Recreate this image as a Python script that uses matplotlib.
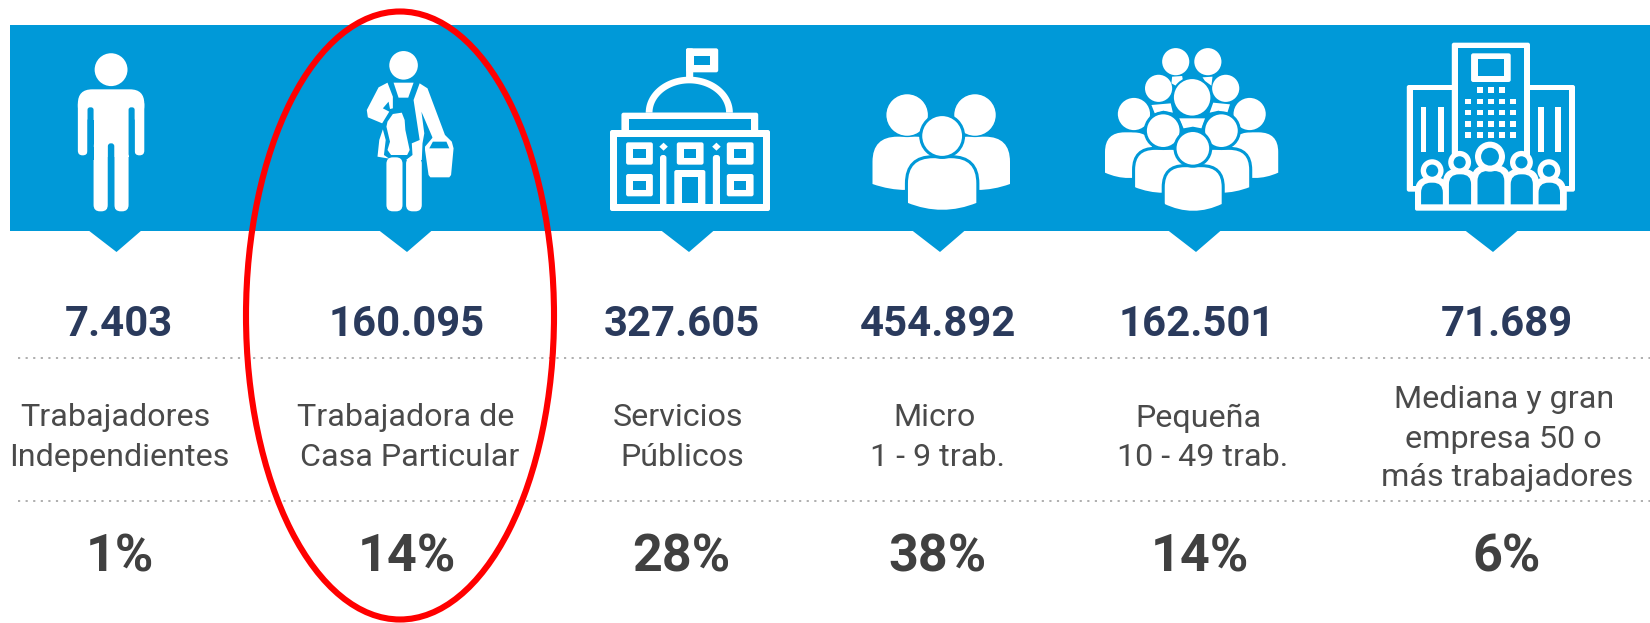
import numpy as np
import matplotlib
matplotlib.use("Agg")
import matplotlib.pyplot as plt
from matplotlib.patches import Rectangle, Polygon, Ellipse, FancyBboxPatch, PathPatch
from matplotlib.path import Path

# ---- data -------------------------------------------------------------
workers = [7403, 160095, 327605, 454892, 162501, 71689]
shares = [1, 14, 28, 38, 14, 6]
categories = [
    ["Trabajadores", "Independientes"],
    ["Trabajadora de", "Casa Particular"],
    ["Servicios", "Públicos"],
    ["Micro", "1 - 9 trab."],
    ["Pequeña", "10 - 49 trab."],
    ["Mediana y gran", "empresa 50 o", "más trabajadores"],
]

# ---- layout (pixels of the 1650x623 picture) ---------------------------
value_x = [118.6, 406.4, 682, 938, 1197, 1507]
share_x = [120, 407, 681, 937.5, 1200, 1507]
label_x = [[115, 119], [406, 410], [678, 682], [934, 938], [1198, 1202.5], [1504, 1503.6, 1507.5]]
pointer_x = [116.5, 407, 689, 940, 1196, 1493]

BLUE = "#0099D8"
WHITE = "#FFFFFF"
NAVY = "#2A3A5C"
GREY = "#4A4A4A"
DARK = "#404040"
DOTS = "#A8A8A8"

fig = plt.figure(figsize=(16.5, 6.23), dpi=100, facecolor="white")
ax = fig.add_axes([0, 0, 1, 1])
ax.set_xlim(0, 1650)
ax.set_ylim(623, 0)
ax.axis("off")

# banner
ax.add_patch(Rectangle((10, 24.5), 1640, 206.2, fc=BLUE, ec="none"))
for px in pointer_x:
    ax.add_patch(Polygon([(px - 28.5, 230), (px + 25.5, 230), (px, 252)], fc=BLUE, ec="none"))


class Icon:
    """Draws in the zoom coordinates of a crop: x/2.8, y/3 from an origin."""
    def __init__(self, ox, oy):
        self.ox, self.oy = ox, oy

    def X(self, x):
        return self.ox + np.asarray(x, float) / 2.8

    def Y(self, y):
        return self.oy + np.asarray(y, float) / 3

    def rr(self, x0, y0, x1, y1, r=0, c=WHITE):
        a, b, d, e = self.X(x0), self.Y(y0), self.X(x1), self.Y(y1)
        r = r / 2.8
        if r <= 0:
            ax.add_patch(Rectangle((a, b), d - a, e - b, fc=c, ec="none"))
        else:
            ax.add_patch(FancyBboxPatch((a + r, b + r), d - a - 2 * r, e - b - 2 * r,
                                        boxstyle=f"round,pad={r},rounding_size={r}",
                                        fc=c, ec="none"))

    def frame(self, x0, y0, x1, y1, t=20, r=6):
        self.rr(x0, y0, x1, y1, r)
        self.rr(x0 + t, y0 + t, x1 - t, y1 - t, 0, BLUE)

    def poly(self, pts, c=WHITE):
        p = np.array(pts, float)
        ax.add_patch(Polygon(np.c_[self.X(p[:, 0]), self.Y(p[:, 1])], fc=c, ec="none"))

    def circ(self, x, y, r, c=WHITE, ec=None, lw=0):
        ax.add_patch(Ellipse((self.X(x), self.Y(y)), 2 * r / 2.8, 2 * r / 2.8, fc=c,
                             ec=ec if ec else "none", lw=lw))

    def body(self, x0, x1, yt, yb, R, sag=18, c=WHITE, ec=BLUE, lw=2.2):
        a, d = self.X(x0), self.X(x1)
        t, b = self.Y(yt), self.Y(yb)
        rr = R / 2.8
        k = [(Path.MOVETO, (a, b)), (Path.LINETO, (a, t + rr)), (Path.CURVE3, (a, t)),
             (Path.CURVE3, (a + rr, t)), (Path.LINETO, (d - rr, t)), (Path.CURVE3, (d, t)),
             (Path.CURVE3, (d, t + rr)), (Path.LINETO, (d, b)),
             (Path.CURVE3, ((a + d) / 2, b + sag / 3 * 2)), (Path.CURVE3, (a, b))]
        ax.add_patch(PathPatch(Path([q[1] for q in k], [q[0] for q in k]), fc=c,
                               ec=ec if ec else "none", lw=lw))

    def person(self, cx, hy, hr, x0, x1, yt, yb, R=60, sag=18):
        self.body(x0, x1, yt, yb, R, sag)
        self.circ(cx, hy, hr, WHITE, BLUE, 2.2)


# --- independent worker
m = Icon(0, 0)
m.circ(311, 209, 46)
m.rr(218, 268, 404, 360, 40)
m.rr(218, 300, 245, 466, 13)
m.rr(377, 300, 404, 466, 13)
m.rr(262, 290, 360, 470, 0)
m.rr(262, 420, 302, 634, 18)
m.rr(320, 420, 360, 634, 18)
m.rr(245, 322, 262, 470, 7, BLUE)
m.rr(360, 322, 377, 470, 7, BLUE)
m.rr(245, 440, 262, 480, 0, BLUE)
m.rr(360, 470, 377, 480, 0, BLUE)
m.rr(302, 430, 320, 640, 8, BLUE)

# --- domestic worker
w = Icon(0, 0)
w.circ(1130, 196, 40)
w.poly([(1102, 248), (1158, 248), (1143, 293), (1116, 293)])
w.poly([(1085, 248), (1060, 262), (1027, 330), (1030, 352), (1070, 370), (1090, 335),
        (1072, 325), (1088, 305), (1092, 327), (1100, 325), (1100, 290)])
w.poly([(1175, 250), (1197, 265), (1247, 408), (1212, 415), (1180, 335), (1188, 400),
        (1183, 430), (1181, 480), (1137, 480), (1155, 465), (1153, 430), (1175, 420),
        (1158, 300)])
w.poly([(1085, 365), (1100, 342), (1125, 338), (1133, 360), (1135, 390), (1147, 450),
        (1140, 465), (1095, 465), (1085, 450), (1092, 425), (1082, 380)])
w.poly([(1072, 388), (1080, 420), (1075, 465), (1090, 476), (1057, 470), (1062, 420)])
w.rr(1082, 472, 1127, 634, 18)
w.rr(1137, 472, 1181, 634, 18)
w.poly([(1190, 450), (1200, 525), (1205, 532), (1258, 532), (1263, 525), (1270, 445),
        (1265, 425), (1247, 406), (1212, 412), (1190, 440)])
w.poly([(1202, 445), (1258, 445), (1250, 425), (1212, 425)], BLUE)

# --- public building
b = Icon(560, 20)
th = np.linspace(np.pi, 2 * np.pi, 60)
b.poly(np.c_[362 + 122 * np.cos(th), 278 + 108 * np.sin(th)])
b.poly(np.c_[362 + 103 * np.cos(th), 278 + 88 * np.sin(th)], BLUE)
b.rr(353, 85, 373, 180, 4)
b.frame(353, 85, 443, 157, 22, 6)
b.rr(353, 108, 372, 135, 0)
b.frame(172, 278, 555, 350, 20, 6)
b.frame(140, 330, 588, 573, 20, 6)
b.rr(172, 330, 555, 350, 0)
for x0, y0 in [(185, 367), (327, 367), (467, 367), (185, 462), (467, 462)]:
    b.frame(x0, y0, x0 + 75, y0 + 67, 20, 6)
b.frame(320, 450, 407, 570, 21, 6)
b.rr(280, 405, 298, 560, 8)
b.rr(428, 405, 448, 560, 8)
b.poly([(290, 368), (302, 380), (290, 392), (278, 380)])
b.poly([(438, 368), (450, 380), (438, 392), (426, 380)])

# --- micro firms
g = Icon(560, 20)
g.body(875, 1065, 350, 492, 70, 18, ec=None)
g.body(1075, 1260, 350, 492, 70, 18, ec=None)
g.circ(972, 285, 60, WHITE, BLUE, 1.0)
g.circ(1162, 285, 60, WHITE, BLUE, 1.0)
g.person(1070, 348, 60, 970, 1170, 410, 552, 75, 22)

# --- small firms
c = Icon(1090, 20)
c.circ(240, 125, 38)
c.circ(330, 125, 38)
c.poly([(230, 170), (258, 168), (260, 180), (240, 197), (228, 190)])
c.poly([(343, 170), (315, 172), (322, 183), (340, 197)])
c.circ(192, 205, 38)
c.circ(380, 205, 38)
c.circ(286, 232, 54, WHITE, BLUE, 1.5)
c.poly([(172, 255), (226, 250), (232, 278), (205, 272), (182, 282)])
c.poly([(345, 248), (392, 253), (384, 280), (360, 272), (335, 278)])
c.poly([(250, 295), (322, 295), (312, 325), (288, 320), (262, 325)])
c.body(42, 175, 337, 458, 55, 16, ec=None)
c.body(395, 527, 337, 458, 55, 16, ec=None)
c.circ(123, 282, 48, WHITE, BLUE, 1.5)
c.circ(447, 282, 48, WHITE, BLUE, 1.5)
c.person(205, 332, 50, 122, 290, 385, 505, 60, 18)
c.person(368, 332, 50, 282, 450, 385, 505, 60, 18)
c.person(288, 385, 50, 205, 373, 437, 555, 60, 22)

# --- medium and large firms
e = Icon(1090, 20)
e.frame(887, 195, 1030, 515, 16, 6)
e.frame(1215, 195, 1358, 515, 16, 6)
e.frame(1013, 68, 1232, 480, 17, 6)
e.frame(1067, 100, 1178, 186, 18, 6)
for yy, xs in [(210, [1091, 1122, 1153])] + [(q, [1059, 1091, 1122, 1153, 1185]) for q in (245, 277, 312, 345)]:
    for xx in xs:
        e.rr(xx - 8, yy - 8, xx + 8, yy + 8, 0)
for xx in (927, 975, 1255, 1303):
    e.rr(xx, 260, xx + 15, 395, 0)
arches = [(927, 988, 488), (1005, 1067, 463), (1085, 1160, 453), (1178, 1240, 463), (1256, 1316, 488)]
e.rr(910, 510, 1335, 572, 5)
for a0, a1, top in arches:
    e.body(a0 - 17, a1 + 17, top - 17, 560, 42, 0, ec=None)
for a0, a1, top in arches:
    e.body(a0, a1, top, 553, 28, 0, c=BLUE, ec=None)
for xx, yy, ro, ri in [(958, 452, 32, 17), (1035, 427, 32, 17), (1120, 410, 42, 25),
                       (1208, 427, 32, 17), (1285, 452, 32, 17)]:
    e.circ(xx, yy, ro)
    e.circ(xx, yy, ri, BLUE)

# dotted rules
for yy in (357.7, 500.7):
    ax.plot([18, 1650], [yy, yy], color=DOTS, lw=1.3, linestyle=(0, (1.2, 3.0)),
            dash_capstyle="butt", zorder=3)

# text
FONT = "Roboto"
for x, v in zip(value_x, workers):
    ax.text(x, 319.5, f"{v:,}".replace(",", "."), ha="center", va="center_baseline",
            family=FONT, weight="bold", fontsize=30.2, color=NAVY, zorder=4)
for xs, lines in zip(label_x, categories):
    ys = [415, 454] if len(lines) == 2 else [397, 436, 475]
    for x, y, s in zip(xs, ys, lines):
        ax.text(x, y, s, ha="center", va="center_baseline", family=FONT,
                fontsize=23.2, color=GREY, zorder=4)
for x, s in zip(share_x, shares):
    ax.text(x, 552, f"{s}%", ha="center", va="center_baseline", family=FONT, weight="bold",
            fontsize=37.5, color=DARK, zorder=4)

# highlight ring
ax.add_patch(Ellipse((400, 315.5), 308, 608, fc="none", ec="#FF0000", lw=4.4, zorder=10))

fig.savefig("out.png", dpi=100, facecolor="white")
